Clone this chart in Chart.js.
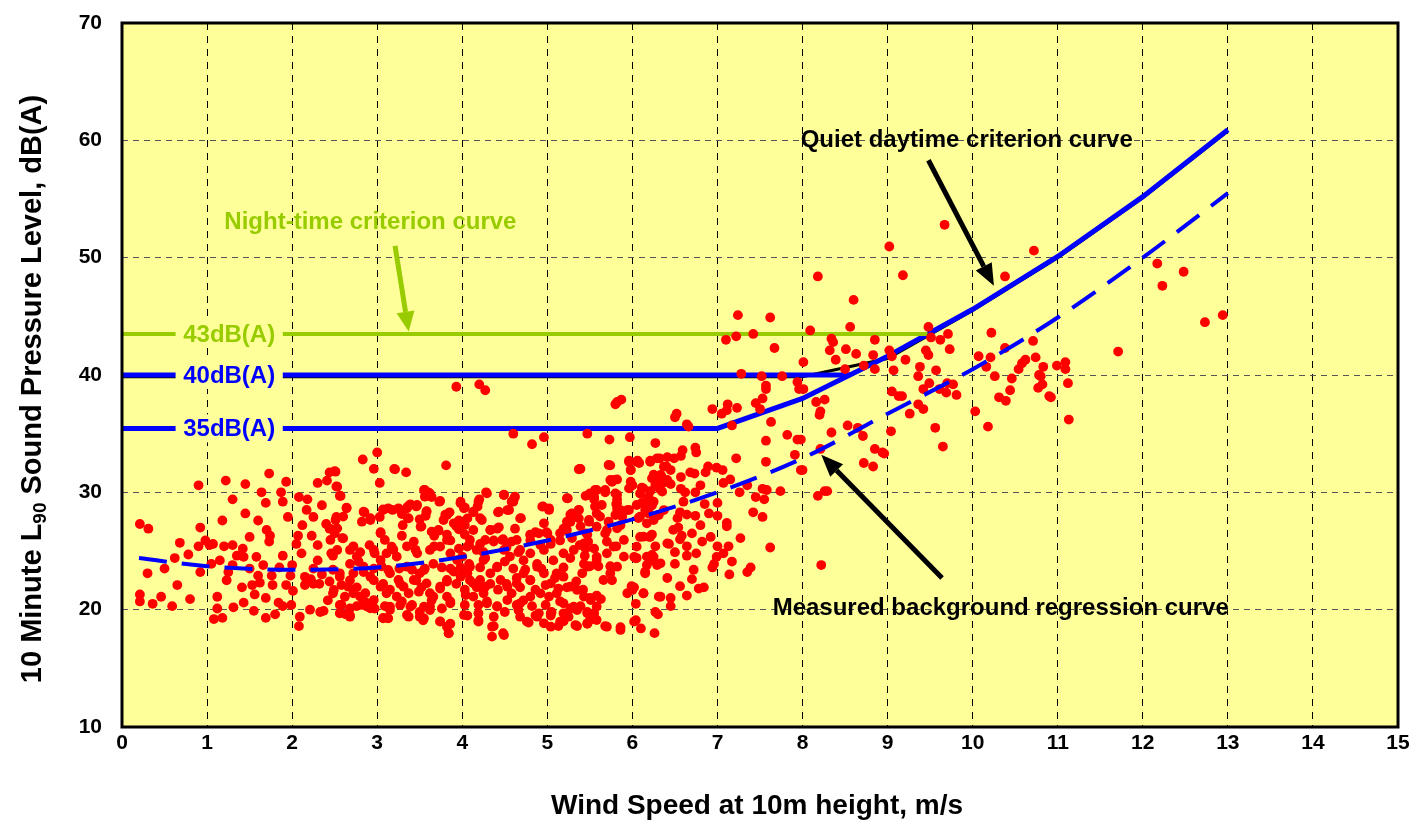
<!DOCTYPE html>
<html>
<head>
<meta charset="utf-8">
<script src="https://cdn.jsdelivr.net/npm/chart.js@4"></script>
<style>
html, body { margin: 0; padding: 0; background: #fff; }
#wrap { width: 1409px; height: 822px; }
</style>
</head>
<body>
<div id="wrap"><canvas id="chart" width="1409" height="822"></canvas></div>
<script>
// measured 10 minute L90 values, [wind speed m/s, dB(A)]
const measuredPoints = [
  // 8 - 13 m/s
  [9.67,52.8],[9.02,50.95],[10.72,50.6],[8.18,48.4],[9.18,48.5],[10.38,48.4],[8.6,46.4],[8.56,44.1],[8.09,43.8],[9.48,44.1],
  [8.34,43.1],[8.36,42.8],[8.32,42.1],[8.51,42.2],[8.39,41.3],[8.63,41.8],[8.85,43.0],[8.83,41.7],[8.85,40.5],[8.72,40.8],
  [8.5,40.5],[8.01,41.1],[8.01,38.8],[8.16,37.7],[8.26,37.9],[8.21,36.9],[8.2,36.6],[8.53,35.7],[8.34,35.1],[8.65,35.5],
  [8.71,34.8],[8.21,33.7],[7.98,34.5],[8.0,31.9],[8.85,33.7],[8.94,33.4],[8.96,33.3],[8.72,32.5],[8.83,32.2],[8.18,29.7],
  [8.26,30.1],[8.29,30.1],[8.22,23.8],[9.02,42.1],[9.05,41.6],[9.07,40.4],[9.21,41.3],[9.05,38.6],[9.13,38.2],[9.17,38.2],
  [9.04,35.2],[9.26,36.7],[9.38,40.7],[9.36,39.9],[9.42,38.8],[9.36,37.5],[9.42,37.1],[9.51,43.2],[9.45,42.1],[9.48,41.7],
  [9.62,43.0],[9.71,43.5],[9.73,42.2],[9.57,40.4],[9.49,39.3],[9.61,38.8],[9.69,38.5],[9.7,39.3],[9.77,39.2],[9.81,38.3],
  [9.56,35.5],[9.65,33.9],[10.07,41.6],[10.16,40.7],[10.21,41.5],[10.22,43.6],[10.26,39.9],[10.38,42.3],[10.31,38.1],[10.39,37.8],
  [10.44,38.7],[10.46,39.7],[10.03,36.9],[10.18,35.6],[10.54,40.5],[10.58,41.0],[10.62,41.3],[10.71,42.9],[10.74,41.5],[10.78,40.0],
  [10.83,40.7],[10.82,39.2],[10.77,38.9],[10.9,38.2],[10.8,39.9],[10.92,38.1],[10.99,40.8],[11.09,41.1],[11.09,40.5],[11.12,39.3],
  [11.13,36.2],[11.71,42.0],[12.17,49.5],[12.23,47.6],[12.48,48.8],[12.73,44.5],[12.94,45.1],
  // 5.4 - 8 m/s
  [7.24,45.1],[7.62,44.9],[7.42,43.5],[7.22,43.3],[7.1,43.0],[7.67,42.3],[7.28,40.1],[7.52,39.9],[7.76,39.9],[7.94,39.4],
  [7.57,39.1],[7.57,38.8],[7.96,38.8],[7.53,38.0],[7.45,37.6],[7.5,37.1],[7.23,37.2],[7.12,37.5],[7.11,37.0],[6.94,37.1],
  [7.05,36.7],[7.17,35.7],[7.63,36.0],[7.82,34.9],[7.94,34.5],[7.57,34.4],[7.91,33.2],[7.98,31.9],[7.57,32.6],[7.22,32.9],
  [6.99,32.1],[7.06,31.9],[7.15,31.1],[7.07,30.8],[7.35,30.6],[7.26,30.0],[7.53,30.3],[7.58,30.2],[7.55,29.4],[7.45,29.6],
  [7.74,30.1],[7.42,28.3],[7.53,27.9],[7.0,29.1],[7.0,28.0],[7.11,27.4],[7.11,27.1],[6.92,26.2],[7.27,26.1],[7.0,25.4],
  [6.99,24.5],[7.13,25.4],[7.07,24.8],[6.96,23.9],[7.17,24.1],[6.94,23.6],[7.14,23.0],[7.62,25.3],[7.35,23.2],[7.39,23.6],
  [6.74,33.8],[6.75,33.4],[6.59,33.6],[6.57,33.1],[6.49,32.9],[6.41,33.0],[6.32,32.9],[6.21,32.6],[6.06,32.7],[6.08,32.5],
  [5.96,32.7],[5.98,31.9],[5.74,32.3],[5.39,32.0],[6.4,32.2],[6.45,31.9],[6.25,31.5],[6.34,31.4],[6.29,30.9],[6.36,30.8],
  [6.57,31.3],[6.68,31.7],[6.73,31.6],[6.86,31.7],[6.89,32.2],[5.82,31.1],[5.76,30.9],[5.98,30.9],[6.0,30.6],[6.11,30.4],
  [6.09,29.9],[6.21,30.1],[6.19,29.6],[6.32,30.3],[6.57,30.3],[6.62,30.0],[6.74,30.0],[5.56,30.2],[5.5,29.9],[5.68,30.0],
  [5.82,29.8],[5.82,29.4],[5.81,29.0],[5.55,29.4],[5.56,28.8],[5.58,28.2],[5.82,28.6],[5.96,28.5],[6.17,29.4],[6.23,28.9],
  [6.11,29.1],[6.19,28.2],[6.07,27.8],[6.56,28.3],[6.53,27.8],[6.64,28.1],[6.74,28.0],[6.48,26.8],[6.54,27.0],[6.09,26.2],
  [6.2,26.2],[6.23,26.4],[5.86,27.2],[5.72,27.5],[5.68,26.5],[5.81,25.4],[5.7,25.8],[5.49,27.5],[5.46,26.5],[5.45,25.2],
  [5.55,25.2],[5.58,24.5],[5.41,23.1],[5.5,23.7],[5.6,23.7],[5.74,23.7],[5.76,22.5],[5.5,21.0],[5.58,21.2],[5.63,20.9],
  [5.47,19.8],[5.55,19.7],[5.5,19.1],[5.68,18.6],[5.86,18.5],[5.94,21.4],[6.04,20.5],[6.04,19.1],[6.26,18.0],[6.27,19.8],
  [6.3,19.6],[6.13,21.4],[6.02,21.9],[5.99,22.0],[6.02,24.5],[6.05,24.4],[6.23,24.2],[6.25,24.5],[6.29,23.8],[6.33,21.1],
  [6.17,23.8],[6.15,23.1],[6.27,25.4],[6.43,25.6],[6.64,25.4],[6.64,24.6],[6.56,26.0],[6.58,26.3],[6.56,22.0],[6.64,21.2],
  [6.78,21.8],[6.84,21.9],[6.41,22.7],[5.8,37.5],[5.82,37.7],[5.87,37.9],[6.52,36.7],[6.5,36.4],[6.64,35.8],[6.66,35.6],
  [5.47,35.0],[5.73,34.5],[5.97,34.7],[6.27,34.2],
  // 2.7 - 5.4 m/s
  [4.6,35.0],[4.96,34.7],[4.82,34.1],[2.83,32.8],[3.0,33.4],[2.96,32.0],[3.2,32.0],[3.34,31.7],[3.81,32.3],[3.03,30.8],
  [5.38,32.0],[3.55,30.2],[3.6,30.0],[4.28,30.0],[4.49,29.8],[4.61,29.5],[4.58,29.2],[5.23,29.5],[5.45,29.7],[3.64,29.6],
  [3.73,29.2],[3.98,29.2],[4.03,28.7],[4.2,29.4],[4.18,28.8],[4.42,28.3],[4.55,28.5],[4.69,27.8],[4.95,28.8],[5.02,28.5],
  [5.27,28.1],[5.37,28.5],[5.23,27.5],[3.07,28.5],[3.18,28.5],[3.27,28.5],[3.36,28.8],[3.46,28.8],[3.58,28.4],[3.57,28.0],
  [2.85,28.3],[2.82,27.5],[2.92,27.8],[3.03,27.9],[3.36,27.8],[3.5,27.7],[3.52,27.1],[3.8,28.1],[3.85,28.3],[3.96,27.6],
  [4.03,27.2],[4.13,28.3],[4.21,27.8],[4.33,26.8],[4.41,26.9],[4.62,26.9],[4.8,26.4],[4.86,26.6],[4.99,26.6],[5.19,26.9],
  [5.27,27.5],[5.39,27.1],[5.47,26.4],[3.3,27.2],[3.72,26.8],[3.67,26.3],[3.82,26.4],[3.93,27.1],[4.03,26.4],[3.04,26.6],
  [3.29,26.3],[3.43,25.8],[3.67,25.4],[3.86,25.9],[3.96,25.2],[4.08,25.5],[4.21,25.6],[4.25,24.9],[4.37,25.9],[4.48,26.0],
  [4.52,25.3],[4.66,24.9],[4.8,25.9],[4.92,25.5],[5.04,25.6],[5.15,25.9],[5.29,26.1],[5.38,25.5],[5.48,25.8],[2.72,25.4],
  [2.8,24.9],[2.91,25.5],[2.97,24.8],[3.11,24.8],[3.19,25.1],[3.35,25.4],[3.45,25.1],[2.68,23.9],[2.78,24.1],[2.84,23.2],
  [2.96,23.5],[3.05,23.7],[3.15,23.1],[3.26,23.5],[3.41,23.4],[3.5,23.1],[3.56,23.5],[3.66,23.9],[3.76,23.6],[3.86,23.5],
  [3.98,23.6],[4.08,23.9],[4.06,23.1],[4.21,23.6],[4.27,24.4],[4.41,23.6],[4.5,24.1],[4.6,23.5],[4.72,24.2],[4.74,23.4],
  [4.88,23.9],[4.93,23.5],[5.07,24.2],[5.19,23.6],[5.27,24.4],[5.43,23.9],[5.44,24.6],[2.68,22.5],[2.76,21.9],[2.86,21.4],
  [2.96,22.5],[3.07,22.2],[3.15,21.7],[3.27,22.2],[3.37,21.4],[3.46,22.5],[3.52,21.9],[3.62,21.4],[3.64,20.8],[3.74,21.8],
  [3.82,22.4],[3.93,22.2],[4.03,21.7],[4.09,22.5],[4.17,21.9],[4.25,21.4],[4.33,22.2],[4.42,21.7],[4.52,22.2],[4.64,22.7],
  [4.68,21.9],[4.8,22.5],[4.86,21.7],[4.98,22.1],[5.09,22.7],[5.13,21.8],[5.23,21.9],[5.34,22.4],[5.42,21.7],[2.76,20.3],
  [2.87,20.6],[2.97,20.1],[3.09,20.3],[3.15,20.0],[3.29,20.7],[3.41,20.4],[3.5,19.8],[3.62,20.3],[3.76,20.1],[3.86,20.7],
  [4.03,20.4],[4.06,19.5],[4.19,20.4],[4.29,20.7],[4.41,20.3],[4.5,19.8],[4.64,20.4],[4.72,20.8],[4.82,20.3],[4.86,19.5],
  [4.98,20.4],[5.05,19.8],[5.15,20.7],[5.27,20.1],[5.39,20.3],[3.07,19.3],[3.12,19.3],[3.37,19.4],[3.5,19.4],[3.54,19.1],
  [3.74,19.0],[3.86,18.8],[3.84,18.0],[4.19,19.1],[4.35,17.7],[4.37,18.6],[4.48,18.0],[4.78,18.9],[4.88,19.4],[5.04,19.5],
  [5.13,18.6],[5.19,19.0],[5.35,18.6],[5.47,18.8],[3.93,39.0],[4.2,39.2],[4.27,38.7],
  // 0 - 2.7 m/s
  [1.73,31.6],[1.22,31.0],[1.45,30.7],[1.93,30.9],[0.9,30.6],[1.64,30.0],[1.87,30.0],[1.3,29.4],[1.69,29.1],[1.89,29.2],
  [2.08,29.6],[2.18,29.4],[2.44,31.7],[2.5,31.8],[2.41,31.0],[2.3,30.8],[2.52,30.5],[2.56,29.7],[2.17,28.5],[2.64,28.7],
  [2.25,27.9],[2.52,27.9],[1.18,27.6],[1.6,27.6],[0.21,27.3],[0.31,26.9],[0.92,27.0],[1.7,26.8],[1.74,26.3],[2.07,26.3],
  [2.23,26.3],[1.73,25.8],[2.44,26.9],[2.5,26.5],[2.59,26.1],[0.68,25.7],[0.98,25.9],[1.03,25.5],[1.07,25.6],[0.9,25.4],
  [1.2,25.4],[1.3,25.5],[1.42,25.2],[1.5,26.2],[0.62,24.4],[0.78,24.7],[1.43,24.5],[1.58,24.5],[1.89,24.6],[1.66,23.8],
  [1.76,22.9],[1.6,22.9],[1.77,22.1],[1.62,22.3],[1.98,22.9],[1.93,22.1],[0.92,23.2],[0.3,23.1],[0.65,22.1],[1.23,22.5],
  [1.41,21.9],[1.53,22.1],[1.56,21.3],[1.31,20.2],[1.12,21.1],[1.12,20.1],[1.18,19.3],[1.08,19.2],[1.43,20.6],[1.69,21.0],
  [1.69,19.3],[1.84,20.6],[1.89,20.3],[2.09,19.4],[2.08,18.6],[1.99,20.4],[0.21,21.3],[0.21,20.7],[0.36,20.5],[0.46,21.1],
  [0.59,20.3],[2.15,22.8],[2.22,22.6],[2.15,22.1],[2.25,22.2],[2.32,22.2],[2.44,22.4],[2.58,22.1],[2.48,23.4],[2.56,22.8],
  [2.21,20.0],[2.33,19.8],[2.37,19.9],[2.56,20.4],[2.68,19.5],[2.63,19.6],[2.01,21.6],[2.48,21.4],[2.62,21.1],[2.72,21.4],
  [2.46,24.8],[2.48,24.6],[2.11,24.8],[2.25,23.5]
];

// the dense core, 2.4 - 6.4 m/s
const measuredCore = [
  [3.21,31.96],[2.53,30.48],[2.51,31.76],[2.57,29.69],[3.56,30.2],[3.62,29.91],[3.74,29.26],[3.56,29.63],[3.39,28.98],[3.47,28.92],
  [3.07,28.55],[3.13,28.64],[3.25,28.64],[3.29,28.15],[3.35,28.64],[2.64,28.64],[2.6,27.93],[2.84,28.35],[2.92,27.64],[2.51,27.64],
  [2.47,26.85],[2.53,26.93],[3.04,26.51],[3.09,25.94],[3.17,25.37],[3.37,27.78],[3.58,28.35],[3.51,27.07],[3.64,26.65],[3.72,26.73],
  [3.78,27.64],[3.82,28.07],[3.9,27.36],[3.96,26.85],[3.98,29.06],[4.02,28.64],[4.06,27.78],[3.98,27.13],[4.13,28.35],[4.19,29.2],
  [4.29,29.91],[4.23,27.64],[4.13,26.79],[4.33,26.79],[4.43,27.02],[4.43,28.35],[4.53,28.49],[4.6,29.2],[4.62,29.63],[4.68,27.78],
  [4.49,29.77],[4.27,25.94],[4.47,25.94],[4.49,25.09],[4.37,25.8],[4.58,25.8],[4.64,25.94],[4.8,26.36],[4.9,26.51],[5.0,26.51],
  [4.96,27.36],[4.94,28.78],[5.02,28.64],[5.15,26.51],[5.23,26.79],[5.27,27.5],[5.37,27.78],[5.29,28.21],[5.24,29.49],[5.37,28.49],
  [5.49,27.64],[5.58,30.2],[5.55,29.63],[5.64,28.92],[5.68,30.2],[5.74,31.05],[5.8,29.91],[5.82,29.06],[5.86,28.49],[5.8,28.07],
  [5.94,28.49],[5.62,27.93],[5.58,27.07],[5.7,26.79],[5.82,26.93],[5.88,27.93],[5.96,32.61],[5.98,31.9],[6.05,32.61],[6.21,32.7],
  [6.29,32.9],[6.37,32.19],[6.33,31.48],[6.41,31.05],[6.23,31.19],[6.27,30.63],[6.35,30.06],[6.13,30.34],[6.19,29.49],[6.25,29.2],
  [6.21,28.78],[6.15,28.49],[6.05,28.92],[6.09,27.93],[6.17,27.36],[6.25,27.64],[6.31,28.07],[6.37,28.49],[6.13,26.22],[6.21,26.22],
  [6.05,25.37],[6.17,24.52],[6.23,24.66],[6.33,23.95],[6.15,23.24],[6.04,24.38],[6.41,25.65],[5.72,32.33],[5.78,31.05],[5.96,30.34],
  [5.37,31.96],
  [2.53,25.09],[2.6,26.08],[2.45,25.94],[2.68,25.09],[2.56,23.1],[2.49,21.68],[2.66,21.96],[2.8,21.11],[2.88,20.26],[2.96,20.82],
  [3.04,21.96],[3.11,21.39],[3.23,21.11],[3.31,21.96],[3.43,22.53],[3.49,21.53],[3.58,22.24],[3.66,21.11],[3.74,21.96],[3.55,20.26],
  [3.62,19.97],[3.39,20.26],[3.27,20.4],[3.15,20.26],[2.92,20.11],[2.82,20.4],[2.68,20.11],[2.58,20.4],[2.68,19.4],[2.56,19.69],
  [3.82,22.53],[3.9,23.24],[3.98,22.81],[4.06,23.38],[4.0,24.52],[4.09,23.66],[4.13,22.24],[4.21,22.53],[4.27,21.96],[4.33,23.1],
  [4.41,23.66],[4.45,22.53],[4.53,21.96],[4.58,21.39],[4.64,22.24],[4.72,23.1],[4.8,22.53],[4.88,23.66],[4.96,23.1],[5.04,22.24],
  [5.11,23.1],[5.19,22.81],[5.27,21.96],[5.35,21.68],[5.43,21.11],[5.51,20.82],[5.58,20.26],[5.66,22.53],[5.74,23.1],[5.82,23.66],
  [5.9,24.52],[6.0,21.68],[6.13,21.39],[6.31,21.11],[3.82,21.11],[3.86,20.54],[4.04,21.25],[4.13,21.11],[4.29,20.54],[4.41,20.26],
  [4.53,20.82],[4.68,20.54],[4.8,21.11],[4.92,21.39],[5.02,21.11],[5.11,21.39],[5.19,20.54],[5.31,20.26],[5.47,19.69],[5.58,19.12],
  [5.7,18.55],[5.86,18.27],[6.02,18.98],[3.07,19.26],[3.13,19.26],[3.35,19.55],[3.55,19.26],[3.74,18.98],[3.82,18.55],[3.84,17.98],
  [4.02,19.55],[4.19,19.69],[4.19,18.98],[4.37,19.4],[4.35,18.55],[4.49,17.84],[4.66,19.97],[4.68,19.4],[4.76,18.98],[4.9,19.69],
  [4.96,18.84],[5.04,18.55],[5.15,18.98],[5.25,19.4],[5.33,18.69],[5.47,18.84],[5.35,19.97],[5.19,19.69],[5.04,19.69],
  [3.62,25.09],[3.74,25.37],[3.86,24.8],[3.94,24.23],[3.82,25.94],[4.06,25.37],[4.17,25.09],[4.09,25.94],[4.25,24.23],[4.56,24.52],
  [4.68,25.09],[4.8,24.8],[4.96,25.09],[5.04,25.94],[5.19,24.8],[5.31,25.09],[5.43,25.65],[5.47,23.66],[5.58,24.23],[5.7,24.8],
  [5.78,25.37],[5.9,25.94],[2.76,24.52],[2.84,23.66],[2.96,25.09],[3.04,24.23],[3.13,23.38],[3.23,24.52],[3.35,23.66],[3.47,24.8],
  [3.55,23.38],[2.92,22.81],[2.72,23.1],[3.25,22.53],
  [1.05,23.9],[1.15,24.2],[1.3,23.8],[1.35,24.6],[1.5,23.5],[1.85,23.6],[2.0,23.8],[2.3,24.2],[2.35,23.0],[2.05,25.6],
  [2.3,25.5],[2.4,27.3],[2.12,27.2],[1.95,27.9],[1.45,28.2],[2.35,28.9],[1.55,19.9],[1.8,19.6],[2.42,20.8],[1.25,23.2],
  [0.8,20.9],[0.5,23.5],[6.45,30.7],[6.6,29.2],[6.8,30.6],[6.85,29.0],[6.9,28.2],[6.8,27.2],[6.7,26.5],[6.5,24.9],
  [6.75,24.8],[6.82,25.8],[6.5,23.9],[6.72,23.4],[6.7,22.6],[6.45,21.0],[6.45,20.3],[6.1,18.4]
];

// measured background regression curve
const regressionWind = [0.2, 1, 2, 3, 4, 5, 6, 7, 8, 9, 10, 11, 12, 13];
const regressionLevel = [24.4, 23.7, 23.4, 23.6, 24.5, 25.9, 27.7, 30.0, 32.9, 36.7, 40.5, 44.9, 50.0, 55.5];

// quiet daytime criterion (35 dB(A) lower limit)
const daytimeWind = [0, 7, 8, 9, 10, 11, 12, 13];
const daytimeLevel = [35.45, 35.45, 38.0, 41.6, 45.6, 50.1, 55.2, 60.9];

// 40 dB(A) daytime limit and its black underlay
const limit40Wind = [0, 8.56];
const limit40Level = [40, 40];
const underlayWind = [0, 8, 9, 10, 11, 12, 13];
const underlayLevel = [39.85, 39.85, 41.4, 45.5, 50.0, 55.1, 60.8];

// night-time criterion
const nightWind = [0, 9.47];
const nightLevel = [43.5, 43.5];

const xTickValues = [0, 15, 1];   // min, max, step
const yTickValues = [10, 70, 10];

const FONT = '"Liberation Sans", Arial, Helvetica, sans-serif';
const BLUE = '#0000FF';
const GREEN = '#99CC00';
const PLOT_BG = '#FFFF99';

const toXY = (xs, ys) => xs.map((x, i) => ({ x: x, y: ys[i] }));

function drawArrow(ctx, x1, y1, x2, y2, color, width, headLen, headHalf) {
    const ang = Math.atan2(y2 - y1, x2 - x1);
    const bx = x2 - headLen * Math.cos(ang);
    const by = y2 - headLen * Math.sin(ang);
    ctx.strokeStyle = color;
    ctx.fillStyle = color;
    ctx.lineWidth = width;
    ctx.lineCap = 'butt';
    ctx.beginPath();
    ctx.moveTo(x1, y1);
    ctx.lineTo(bx, by);
    ctx.stroke();
    ctx.beginPath();
    ctx.moveTo(x2, y2);
    ctx.lineTo(bx + headHalf * Math.sin(ang), by - headHalf * Math.cos(ang));
    ctx.lineTo(bx - headHalf * Math.sin(ang), by + headHalf * Math.cos(ang));
    ctx.closePath();
    ctx.fill();
}

const decorPlugin = {
    id: 'decor',
    beforeDraw(chart) {
        const { ctx, chartArea: a } = chart;
        ctx.save();
        ctx.fillStyle = PLOT_BG;
        ctx.fillRect(a.left, a.top, a.right - a.left, a.bottom - a.top);
        ctx.restore();
    },
    afterDatasetsDraw(chart) {
        const { ctx, chartArea: a } = chart;
        const xs = chart.scales.x, ys = chart.scales.y;
        const px = v => xs.getPixelForValue(v);
        const py = v => ys.getPixelForValue(v);
        ctx.save();

        // level labels on the criterion lines
        const levels = [
            { text: '43dB(A)', y: nightLevel[0], color: GREEN },
            { text: '40dB(A)', y: limit40Level[0], color: BLUE },
            { text: '35dB(A)', y: daytimeLevel[0], color: BLUE }
        ];
        ctx.font = 'bold 24px ' + FONT;
        ctx.textAlign = 'center';
        ctx.textBaseline = 'middle';
        levels.forEach(l => {
            const x0 = px(0.63), x1 = px(1.89);
            ctx.fillStyle = PLOT_BG;
            ctx.fillRect(x0, py(l.y) - 14, x1 - x0, 28);
            ctx.fillStyle = l.color;
            ctx.fillText(l.text, px(1.26), py(l.y) + 1);
        });

        // annotations
        ctx.fillStyle = GREEN;
        ctx.fillText('Night-time criterion curve', px(2.92), py(53.05));
        drawArrow(ctx, px(3.21), py(51.0), px(3.37), py(43.7), GREEN, 5, 20, 9);

        ctx.fillStyle = '#000';
        ctx.fillText('Quiet daytime criterion curve', px(9.93), py(60.0));
        drawArrow(ctx, px(9.48), py(58.3), px(10.25), py(47.6), '#000', 5, 22, 9);

        ctx.fillStyle = '#000';
        ctx.fillText('Measured background regression curve', px(10.33), py(20.1));
        drawArrow(ctx, px(9.64), py(22.7), px(8.22), py(33.2), '#000', 5, 22, 9);

        // plot frame
        ctx.strokeStyle = '#000';
        ctx.lineWidth = 3;
        ctx.strokeRect(a.left, a.top, a.right - a.left, a.bottom - a.top);

        // axis titles
        ctx.fillStyle = '#000';
        ctx.font = 'bold 28px ' + FONT;
        ctx.textAlign = 'center';
        ctx.textBaseline = 'middle';
        ctx.fillText('Wind Speed at 10m height, m/s', 757, 806);

        const partA = '10 Minute L';
        const partSub = '90';
        const partB = ' Sound Pressure Level, dB(A)';
        const bigFont = 'bold 29px ' + FONT;
        const subFont = 'bold 19px ' + FONT;
        ctx.font = bigFont;
        const wA = ctx.measureText(partA).width;
        const wB = ctx.measureText(partB).width;
        ctx.font = subFont;
        const wS = ctx.measureText(partSub).width;
        const total = wA + wS + wB;
        ctx.translate(31, 389);
        ctx.rotate(-Math.PI / 2);
        ctx.textAlign = 'left';
        ctx.textBaseline = 'alphabetic';
        let cx = -total / 2;
        ctx.font = bigFont;
        ctx.fillText(partA, cx, 10);
        cx += wA;
        ctx.font = subFont;
        ctx.fillText(partSub, cx, 15);
        cx += wS;
        ctx.font = bigFont;
        ctx.fillText(partB, cx, 10);
        ctx.restore();
    }
};

function renderChart() {
    const ctx = document.getElementById('chart').getContext('2d');
    const allMeasured = measuredPoints.concat(measuredCore);
    new Chart(ctx, {
        type: 'scatter',
        data: {
            datasets: [
                {
                    label: 'Measured background regression curve',
                    data: toXY(regressionWind, regressionLevel),
                    showLine: true,
                    borderColor: BLUE,
                    borderWidth: 4,
                    borderDash: [28, 15],
                    pointRadius: 0,
                    tension: 0.4,
                    cubicInterpolationMode: 'monotone',
                    order: 0
                },
                {
                    label: 'Measured L90',
                    data: allMeasured.map(p => ({ x: p[0], y: p[1] })),
                    backgroundColor: '#FF0000',
                    borderWidth: 0,
                    pointRadius: 4.9,
                    order: 1
                },
                {
                    label: 'Night-time criterion curve',
                    data: toXY(nightWind, nightLevel),
                    showLine: true,
                    borderColor: GREEN,
                    borderWidth: 4,
                    pointRadius: 0,
                    order: 2
                },
                {
                    label: 'Quiet daytime criterion curve',
                    data: toXY(daytimeWind, daytimeLevel),
                    showLine: true,
                    borderColor: BLUE,
                    borderWidth: 5,
                    pointRadius: 0,
                    order: 2
                },
                {
                    label: '40dB(A)',
                    data: toXY(limit40Wind, limit40Level),
                    showLine: true,
                    borderColor: BLUE,
                    borderWidth: 5,
                    pointRadius: 0,
                    order: 2
                },
                {
                    label: 'underlay',
                    data: toXY(underlayWind, underlayLevel),
                    showLine: true,
                    borderColor: '#000',
                    borderWidth: 3,
                    pointRadius: 0,
                    order: 3
                }
            ]
        },
        options: {
            responsive: false,
            animation: false,
            layout: { padding: { top: 23, right: 11, left: 0, bottom: 0 } },
            plugins: {
                legend: { display: false },
                tooltip: { enabled: false }
            },
            scales: {
                x: {
                    type: 'linear',
                    min: xTickValues[0],
                    max: xTickValues[1],
                    afterFit: s => {
                        s.height = 95;
                        s.paddingLeft = 0;
                        s.paddingRight = 0;
                    },
                    ticks: {
                        stepSize: xTickValues[2],
                        color: '#000',
                        font: { family: FONT, size: 21, weight: 'bold' },
                        padding: 4,
                        maxRotation: 0
                    },
                    grid: { color: '#000', lineWidth: 1, drawTicks: false },
                    border: { display: false, dash: [7, 6] }
                },
                y: {
                    type: 'linear',
                    min: yTickValues[0],
                    max: yTickValues[1],
                    afterFit: s => {
                        s.width = 122;
                        s.paddingTop = 0;
                        s.paddingBottom = 0;
                    },
                    ticks: {
                        stepSize: yTickValues[2],
                        color: '#000',
                        font: { family: FONT, size: 21, weight: 'bold' },
                        padding: 20
                    },
                    grid: { color: '#555', lineWidth: 1, drawTicks: false },
                    border: { display: false, dash: [6, 5] }
                }
            }
        },
        plugins: [decorPlugin]
    });
}

document.addEventListener('DOMContentLoaded', renderChart);
</script>
</body>
</html>
